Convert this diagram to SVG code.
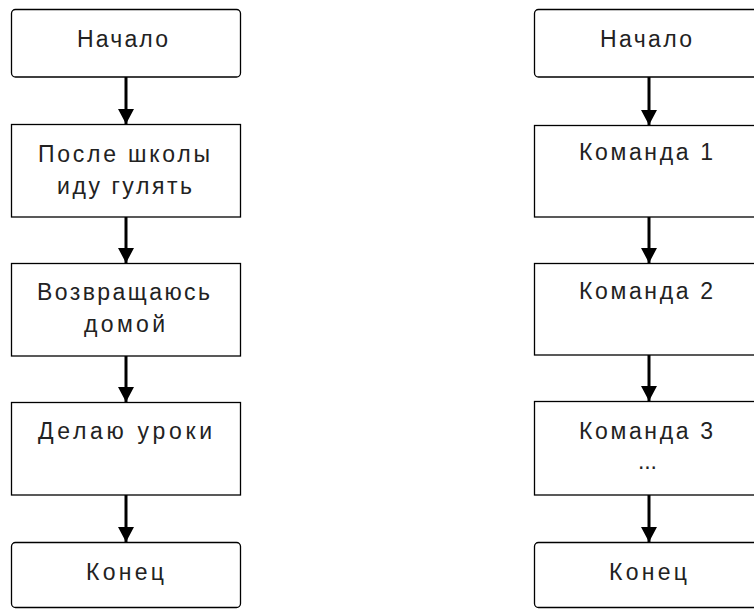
<svg xmlns="http://www.w3.org/2000/svg" width="754" height="609" viewBox="0 0 754 609">
<style>
.box{fill:#fff;stroke:#000;stroke-width:1.3}
.t{font-family:"Liberation Sans","DejaVu Sans",sans-serif;font-size:23px;fill:#222}
.c{stroke:#000;stroke-width:3;fill:none;marker-end:url(#ah)}
</style>
<defs>
<marker id="ah" viewBox="0 0 15 16" refX="15" refY="8" markerWidth="15" markerHeight="16" markerUnits="userSpaceOnUse" orient="auto">
<path d="M0,0 L15,8 L0,16 z" fill="#000"/>
</marker>
</defs>
<rect width="754" height="609" fill="#fff"/>
<g id="connectors">
<line class="c" x1="126" y1="77" x2="126" y2="124"/>
<line class="c" x1="126" y1="217" x2="126" y2="263"/>
<line class="c" x1="126" y1="356" x2="126" y2="402"/>
<line class="c" x1="126" y1="495" x2="126" y2="542"/>
<line class="c" x1="649" y1="77" x2="649" y2="125"/>
<line class="c" x1="649" y1="217" x2="649" y2="263"/>
<line class="c" x1="649" y1="355" x2="649" y2="401"/>
<line class="c" x1="649" y1="495" x2="649" y2="542"/>
</g>
<g id="l-start">
<rect class="box" x="11.5" y="9.5" width="229" height="67.5" rx="4"/>
<text class="t" x="77" y="47" textLength="91" lengthAdjust="spacing">Начало</text>
</g>
<g id="l-walk">
<rect class="box" x="11.5" y="124.5" width="229" height="92.5"/>
<text class="t" x="38" y="162" textLength="172" lengthAdjust="spacing">После школы</text>
<text class="t" x="57" y="194" textLength="135" lengthAdjust="spacing">иду гулять</text>
</g>
<g id="l-home">
<rect class="box" x="11.5" y="263.5" width="229" height="92.5"/>
<text class="t" x="37" y="300" textLength="173" lengthAdjust="spacing">Возвращаюсь</text>
<text class="t" x="84" y="332" textLength="81" lengthAdjust="spacing">домой</text>
</g>
<g id="l-homework">
<rect class="box" x="11.5" y="402.5" width="229" height="92.5"/>
<text class="t" x="38" y="439" textLength="174" lengthAdjust="spacing">Делаю уроки</text>
</g>
<g id="l-end">
<rect class="box" x="11.5" y="542.5" width="229" height="65" rx="4"/>
<text class="t" x="86" y="580" textLength="78" lengthAdjust="spacing">Конец</text>
</g>
<g id="r-start">
<rect class="box" x="534.5" y="9.5" width="229" height="67.5" rx="4"/>
<text class="t" x="600" y="47" textLength="92" lengthAdjust="spacing">Начало</text>
</g>
<g id="r-cmd1">
<rect class="box" x="534.5" y="125.5" width="229" height="91.5"/>
<text class="t" x="579" y="160" textLength="134" lengthAdjust="spacing">Команда 1</text>
</g>
<g id="r-cmd2">
<rect class="box" x="534.5" y="263.5" width="229" height="91.5"/>
<text class="t" x="579" y="299" textLength="134" lengthAdjust="spacing">Команда 2</text>
</g>
<g id="r-cmd3">
<rect class="box" x="534.5" y="401.5" width="229" height="93.5"/>
<text class="t" x="579" y="439" textLength="134" lengthAdjust="spacing">Команда 3</text>
<text class="t" x="638" y="469" textLength="19" lengthAdjust="spacing">...</text>
</g>
<g id="r-end">
<rect class="box" x="534.5" y="542.5" width="229" height="65" rx="4"/>
<text class="t" x="609" y="580" textLength="78" lengthAdjust="spacing">Конец</text>
</g>
</svg>
